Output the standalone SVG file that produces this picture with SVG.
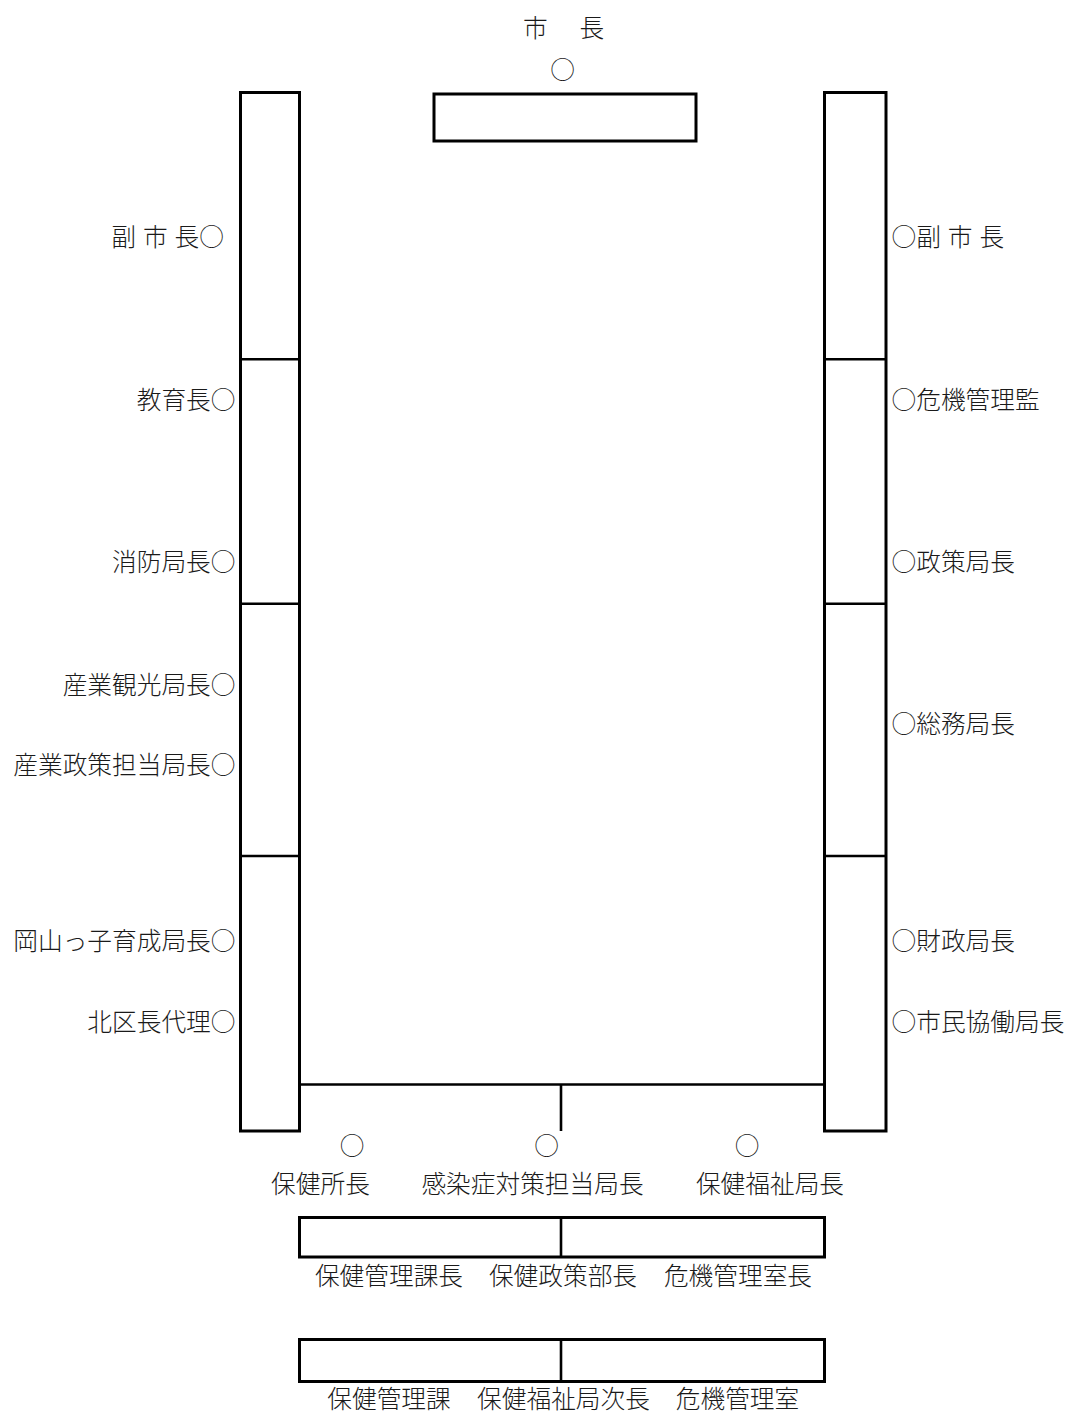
<svg xmlns="http://www.w3.org/2000/svg" width="1069" height="1413" viewBox="0 0 1069 1413">
<style>
text{font-family:"Noto Sans CJK JP","Noto Sans CJK SC",sans-serif;font-size:24.7px;font-weight:300;fill:#1a1a1a;}
.e{text-anchor:end;}
.m{text-anchor:middle;}
.w{word-spacing:1.5px;}
.t{fill:none;stroke:#000;stroke-width:3;}
.l{stroke:#000;stroke-width:2.6;fill:none;}
</style>
<rect width="1069" height="1413" fill="#fff"/>
<g id="tables">
<g id="table-top"><rect class="t" x="434" y="94" width="262" height="47" stroke-width="2.4"/></g>
<g id="table-left">
<rect class="t" x="240.5" y="92.5" width="59" height="1038.5"/>
<line class="l" x1="240.5" y1="359.3" x2="299.5" y2="359.3"/>
<line class="l" x1="240.5" y1="603.8" x2="299.5" y2="603.8"/>
<line class="l" x1="240.5" y1="856" x2="299.5" y2="856"/>
</g>
<g id="table-right">
<rect class="t" x="824.5" y="92.5" width="61.5" height="1038.5"/>
<line class="l" x1="824.5" y1="359.3" x2="886" y2="359.3"/>
<line class="l" x1="824.5" y1="603.8" x2="886" y2="603.8"/>
<line class="l" x1="824.5" y1="856" x2="886" y2="856"/>
</g>
<g id="table-bottom">
<line class="l" x1="299.5" y1="1084.5" x2="824.5" y2="1084.5"/>
<line class="l" x1="561" y1="1084.5" x2="561" y2="1131"/>
</g>
<g id="table-row2">
<rect class="t" x="299.5" y="1217.5" width="525" height="39.5"/>
<line class="l" x1="561" y1="1217.5" x2="561" y2="1257"/>
</g>
<g id="table-row3">
<rect class="t" x="299.5" y="1339.5" width="525" height="42"/>
<line class="l" x1="561" y1="1339.5" x2="561" y2="1381.5"/>
</g>
</g>
<g id="connectors"></g>
<g id="seat-mayor">
<text x="523" y="37" letter-spacing="3.5">市　長</text>
<text class="m" x="562.5" y="79">○</text>
</g>
<g id="seats-left">
<text class="e w" x="224" y="246">副 市 長○</text>
<text class="e" x="235.5" y="409">教育長○</text>
<text class="e" x="235.5" y="571">消防局長○</text>
<text class="e" x="235.5" y="694">産業観光局長○</text>
<text class="e" x="235.5" y="774">産業政策担当局長○</text>
<text class="e" x="235.5" y="950">岡山っ子育成局長○</text>
<text class="e" x="235.5" y="1031">北区長代理○</text>
</g>
<g id="seats-right">
<text class="w" x="891.5" y="246">○副 市 長</text>
<text x="891.5" y="409">○危機管理監</text>
<text x="891.5" y="571">○政策局長</text>
<text x="891.5" y="733">○総務局長</text>
<text x="891.5" y="950">○財政局長</text>
<text x="891.5" y="1031">○市民協働局長</text>
</g>
<g id="seats-bottom">
<text class="m" x="352" y="1154.5">○</text>
<text class="m" x="546.5" y="1154.5">○</text>
<text class="m" x="747" y="1154.5">○</text>
<text class="m" x="320.5" y="1193">保健所長</text>
<text class="m" x="532.5" y="1193">感染症対策担当局長</text>
<text class="m" x="770" y="1193">保健福祉局長</text>
</g>
<g id="seats-row2">
<text class="m" x="389" y="1285">保健管理課長</text>
<text class="m" x="563" y="1285">保健政策部長</text>
<text class="m" x="738" y="1285">危機管理室長</text>
</g>
<g id="seats-row3">
<text class="m" x="389" y="1408">保健管理課</text>
<text class="m" x="563.5" y="1408">保健福祉局次長</text>
<text class="m" x="737.5" y="1408">危機管理室</text>
</g>
</svg>
